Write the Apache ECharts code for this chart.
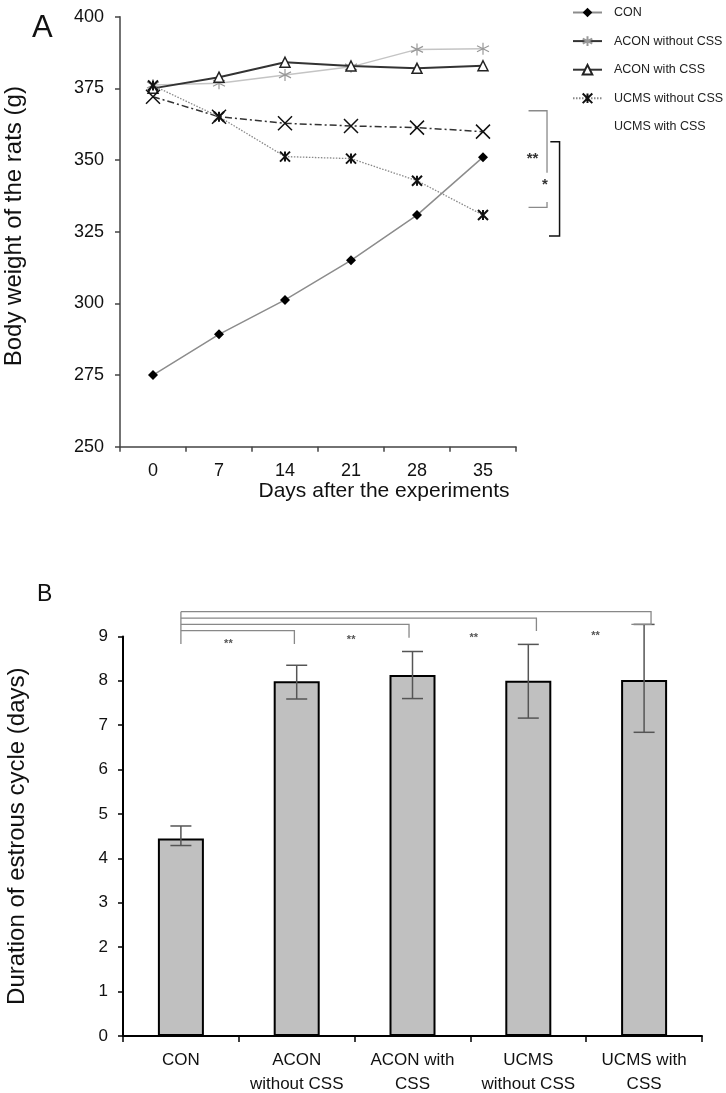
<!DOCTYPE html>
<html>
<head>
<meta charset="utf-8">
<script src="https://cdn.jsdelivr.net/npm/echarts@6/dist/echarts.min.js"></script>
<style>
html,body{margin:0;padding:0;background:#fff;}
#c{width:726px;height:1093px;}
</style>
</head>
<body>
<div id="c"></div>
<script>
// ---------- Panel A data ----------
const days = ['0', '7', '14', '21', '28', '35'];
const conWeight      = [275.0, 289.2, 301.2, 315.0, 330.8, 351.0];
const aconNoCssWeight = [376.2, 376.8, 379.7, 382.5, 388.6, 388.8];
const aconCssWeight   = [375.0, 378.9, 384.1, 382.8, 382.0, 382.9];
const ucmsNoCssWeight = [376.0, 365.1, 351.2, 350.5, 342.8, 330.8];
const ucmsCssWeight   = [372.1, 365.1, 362.8, 361.9, 361.3, 359.9];
const weightAxis = {min: 250, max: 400, step: 25};
const seriesNames = ['CON', 'ACON without CSS', 'ACON with CSS', 'UCMS without CSS', 'UCMS with CSS'];

// ---------- Panel B data ----------
const groups = ['CON', 'ACON\nwithout CSS', 'ACON with\nCSS', 'UCMS\nwithout CSS', 'UCMS with\nCSS'];
const cycleMean = [4.45, 7.99, 8.13, 8.00, 8.02];
const cycleLow  = [4.29, 7.59, 7.60, 7.16, 6.84];
const cycleHigh = [4.73, 8.35, 8.66, 8.82, 9.27];
const cycleAxis = {min: 0, max: 9, step: 1};

// significance annotations (value levels)
const sigA = [
  {top: 367.2, gapTop: 345.6, gapBottom: 335.4, bottom: 333.5, label: '**', labelY: 350.3, starY: 341.3},
  {top: 356.4, bottom: 323.5}
];
const sigB = [ // [target group index, bar level, right leg end]
  [1, 9.13, 8.83],
  [2, 9.27, 8.97],
  [3, 9.41, 9.12],
  [4, 9.556, 9.27]
];
const sigBLeftEnd = 8.83;
const sigBLabels = [[0.41, 8.83], [1.47, 8.92], [2.53, 8.96], [3.58, 9.02]];

const chart = echarts.init(document.getElementById('c'), null, {renderer: 'canvas'});

const FONT = 'Liberation Sans, Arial, sans-serif';
const asteriskPath = 'path://M5 0L5 10M0.7 2.5L9.3 7.5M9.3 2.5L0.7 7.5';
const heavyAstPath = 'path://M5 0L5 10M0 0L10 10M10 0L0 10';
const crossPath = 'path://M0 0L10 10M10 0L0 10';

function sigARender(params, api) {
  const c5 = api.coord([5, 0])[0];
  const bw = api.size([1, 0])[0];
  const X = f => c5 + f * bw;
  const Y = v => api.coord([0, v])[1];
  const b1 = sigA[0], b2 = sigA[1];
  const grey = {stroke: '#8a8a8a', lineWidth: 1.3, fill: null};
  const black = {stroke: '#111', lineWidth: 1.5, fill: null};
  return {
    type: 'group',
    children: [
      {type: 'polyline', shape: {points: [[X(0.69), Y(b1.top)], [X(0.97), Y(b1.top)], [X(0.97), Y(b1.gapTop)]]}, style: grey},
      {type: 'polyline', shape: {points: [[X(0.97), Y(b1.gapBottom)], [X(0.97), Y(b1.bottom)], [X(0.69), Y(b1.bottom)]]}, style: grey},
      {type: 'polyline', shape: {points: [[X(1.02), Y(b2.top)], [X(1.16), Y(b2.top)], [X(1.16), Y(b2.bottom)], [X(1.0), Y(b2.bottom)]]}, style: black},
      {type: 'text', style: {text: '**', x: X(0.75), y: Y(b1.labelY), fill: '#333', font: 'bold 15px ' + FONT, align: 'center', verticalAlign: 'middle'}},
      {type: 'text', style: {text: '*', x: X(0.94), y: Y(b1.starY), fill: '#333', font: 'bold 15px ' + FONT, align: 'center', verticalAlign: 'middle'}}
    ]
  };
}

function errRender(params, api) {
  const idx = api.value(0);
  const top = api.coord([idx, api.value(2)]);
  const bot = api.coord([idx, api.value(1)]);
  const half = 10.5;
  const st = {stroke: '#555', lineWidth: 1.5};
  return {
    type: 'group',
    children: [
      {type: 'line', shape: {x1: top[0], y1: top[1], x2: bot[0], y2: bot[1]}, style: st},
      {type: 'line', shape: {x1: top[0] - half, y1: top[1], x2: top[0] + half, y2: top[1]}, style: st},
      {type: 'line', shape: {x1: bot[0] - half, y1: bot[1], x2: bot[0] + half, y2: bot[1]}, style: st}
    ]
  };
}

function sigBRender(params, api) {
  const bw = api.size([1, 0])[0];
  const X = f => api.coord([0, 0])[0] + f * bw;
  const Y = v => api.coord([0, v])[1];
  const legOffset = [0, -0.02, -0.03, 0.07, 0.06];
  const st = {stroke: '#888', lineWidth: 1.3, fill: null};
  const children = [];
  const topLevel = Math.max.apply(null, sigB.map(b => b[1]));
  children.push({type: 'line', shape: {x1: X(0), y1: Y(topLevel), x2: X(0), y2: Y(sigBLeftEnd)}, style: st});
  sigB.forEach(b => {
    const xr = X(b[0] + legOffset[b[0]]);
    const pts = [[X(0), Y(b[1])], [xr, Y(b[1])], [xr, Y(b[2])]];
    if (b[0] === 4) pts.push([X(3.89), Y(b[2])]);
    children.push({type: 'polyline', shape: {points: pts}, style: st});
  });
  sigBLabels.forEach(l => {
    children.push({type: 'text', style: {text: '**', x: X(l[0]), y: Y(l[1]), fill: '#555', font: 'bold 11px ' + FONT, align: 'center', verticalAlign: 'middle'}});
  });
  return {type: 'group', children: children};
}

const lineBase = {type: 'line', xAxisIndex: 0, yAxisIndex: 0, showAllSymbol: true, animation: false};

const option = {
  animation: false,
  backgroundColor: '#ffffff',
  textStyle: {fontFamily: FONT},
  graphic: [
    {type: 'text', left: 32, top: 13, style: {text: 'A', font: '31px ' + FONT, fill: '#111'}},
    {type: 'text', left: 37, top: 583, style: {text: 'B', font: '23px ' + FONT, fill: '#111'}}
  ],
  legend: {
    orient: 'vertical',
    left: 567,
    top: 1,
    itemWidth: 29,
    itemHeight: 12,
    itemGap: 15.6,
    textStyle: {fontFamily: FONT, fontSize: 12.5, color: '#222', padding: [0, 0, 0, 7]},
    data: [
      {name: 'CON'},
      {name: 'ACON without CSS', lineStyle: {color: '#333', width: 2}},
      {name: 'ACON with CSS'},
      {name: 'UCMS without CSS'},
      {name: 'UCMS with CSS', itemStyle: {opacity: 0}, lineStyle: {opacity: 0}}
    ],
    selectedMode: false
  },
  grid: [
    {left: 120, top: 16.7, width: 396, height: 430, outerBoundsMode: 'none', containLabel: false},
    {left: 123, top: 636.4, width: 579, height: 399.6, outerBoundsMode: 'none', containLabel: false}
  ],
  xAxis: [
    {
      gridIndex: 0, type: 'category', data: days, boundaryGap: true,
      axisLine: {lineStyle: {color: '#444', width: 1.5}},
      axisTick: {show: true, length: 5, lineStyle: {color: '#444', width: 1.5}},
      axisLabel: {fontSize: 18, color: '#111', margin: 15},
      name: 'Days after the experiments', nameLocation: 'middle', nameGap: 34,
      nameTextStyle: {fontSize: 21, color: '#111', padding: [0, 0, 0, 132]}
    },
    {
      gridIndex: 1, type: 'category', data: groups, boundaryGap: true,
      axisLine: {lineStyle: {color: '#000', width: 2}},
      axisTick: {show: true, length: 6, lineStyle: {color: '#000', width: 1.5}},
      axisLabel: {fontSize: 17, lineHeight: 24, color: '#111', margin: 12, interval: 0}
    }
  ],
  yAxis: [
    {
      gridIndex: 0, type: 'value', min: weightAxis.min, max: weightAxis.max, interval: weightAxis.step,
      axisLine: {show: true, lineStyle: {color: '#444', width: 1.5}},
      axisTick: {show: true, length: 5, lineStyle: {color: '#444', width: 1.5}},
      splitLine: {show: false},
      axisLabel: {fontSize: 18, color: '#111', margin: 16},
      name: 'Body weight of the rats (g)', nameLocation: 'middle', nameGap: 94,
      nameTextStyle: {fontSize: 24, color: '#111', padding: [0, 0, 0, 11]}
    },
    {
      gridIndex: 1, type: 'value', min: cycleAxis.min, max: cycleAxis.max, interval: cycleAxis.step,
      axisLine: {show: true, lineStyle: {color: '#000', width: 2}},
      axisTick: {show: true, length: 5, lineStyle: {color: '#000', width: 1.5}},
      splitLine: {show: false},
      axisLabel: {fontSize: 17, color: '#111', margin: 15},
      name: 'Duration of estrous cycle (days)', nameLocation: 'middle', nameGap: 94,
      nameTextStyle: {fontSize: 24, color: '#111'}
    }
  ],
  series: [
    Object.assign({}, lineBase, {
      name: seriesNames[1], data: aconNoCssWeight, z: 2,
      symbol: asteriskPath, symbolSize: 12,
      lineStyle: {color: '#c4c4c4', width: 1.5},
      itemStyle: {color: 'transparent', borderColor: '#999', borderWidth: 1.2}
    }),
    Object.assign({}, lineBase, {
      name: seriesNames[2], data: aconCssWeight, z: 3,
      symbol: 'triangle', symbolSize: 10,
      lineStyle: {color: '#333', width: 2},
      itemStyle: {color: '#fff', borderColor: '#222', borderWidth: 1.5}
    }),
    Object.assign({}, lineBase, {
      name: seriesNames[4], data: ucmsCssWeight, z: 3,
      symbol: crossPath, symbolSize: 14,
      lineStyle: {color: '#333', width: 1.5, type: [7, 3, 2, 3]},
      itemStyle: {color: 'transparent', borderColor: '#111', borderWidth: 1.5}
    }),
    Object.assign({}, lineBase, {
      name: seriesNames[3], data: ucmsNoCssWeight, z: 4,
      symbol: heavyAstPath, symbolSize: 10,
      lineStyle: {color: '#888', width: 1.3, type: [1.5, 1.5]},
      itemStyle: {color: 'transparent', borderColor: '#111', borderWidth: 2}
    }),
    Object.assign({}, lineBase, {
      name: seriesNames[0], data: conWeight, z: 5,
      symbol: 'diamond', symbolSize: 10,
      lineStyle: {color: '#8c8c8c', width: 1.5},
      itemStyle: {color: '#000', borderColor: '#000', borderWidth: 0}
    }),
    {
      type: 'custom', xAxisIndex: 0, yAxisIndex: 0, clip: false, silent: true,
      data: [[0, 0]], renderItem: sigARender, z: 6
    },
    {
      type: 'bar', xAxisIndex: 1, yAxisIndex: 1, data: cycleMean, barWidth: 46,
      itemStyle: {color: '#c0c0c0', borderColor: '#000', borderWidth: 2}, z: 2
    },
    {
      type: 'custom', xAxisIndex: 1, yAxisIndex: 1, clip: false, silent: true, z: 5,
      data: cycleMean.map((m, i) => [i, cycleLow[i], cycleHigh[i]]),
      renderItem: errRender
    },
    {
      type: 'custom', xAxisIndex: 1, yAxisIndex: 1, clip: false, silent: true, z: 5,
      data: [[0, 0]], renderItem: sigBRender
    }
  ]
};
chart.setOption(option);
</script>
</body>
</html>
